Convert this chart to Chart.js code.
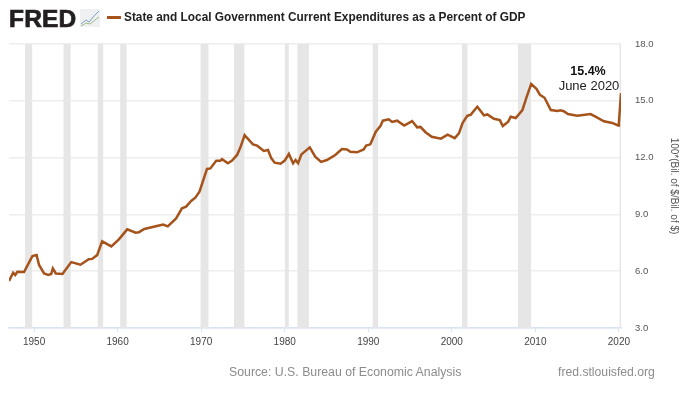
<!DOCTYPE html>
<html>
<head>
<meta charset="utf-8">
<script src="https://cdn.jsdelivr.net/npm/chart.js@4/dist/chart.umd.min.js"></script>
<style>
html, body { margin: 0; padding: 0; background: #fff; }
#wrap { position: relative; width: 700px; height: 393px; overflow: hidden; font-family: "Liberation Sans", Arial, sans-serif; filter: blur(0.4px); }
#wrap canvas { position: absolute; left: 0; top: 0; }
.txt { position: absolute; white-space: nowrap; }
#logo { left: 9px; top: 4px; font-size: 24.5px; line-height: 30px; font-weight: bold; color: #231f20; letter-spacing: 0.2px; -webkit-text-stroke: 0.7px #231f20; }
#icon { position: absolute; left: 80px; top: 9px; }
#legendLine { position: absolute; left: 107px; top: 16px; width: 14px; height: 3px; background: #a5531b; }
#title { left: 124px; top: 10px; font-size: 11.85px; line-height: 14px; font-weight: bold; color: #222; }
#source { left: 229px; top: 365px; font-size: 12.3px; line-height: 14px; color: #8c8c8c; }
#site { left: 558px; top: 365px; font-size: 12.2px; line-height: 14px; color: #8c8c8c; }
#note1 { left: 538px; width: 100px; text-align: center; top: 64px; font-size: 12.5px; line-height: 15px; font-weight: bold; color: #111; }
#note2 { left: 539px; width: 100px; text-align: center; top: 78px; font-size: 13px; line-height: 15px; color: #222; }
</style>
</head>
<body>
<div id="wrap">
  <canvas id="fredChart" width="700" height="393"></canvas>
  <div class="txt" id="logo">FRED</div>
  <svg id="icon" width="20" height="18" viewBox="0 0 20 18">
    <rect x="0" y="0" width="20" height="18" fill="#eef0f2"/>
    <polyline points="1,15 6,11 9,13 14,7 19,2" fill="none" stroke="#7f9fc4" stroke-width="1"/>
    <polyline points="1,17 6,14 10,15 15,11 19,8" fill="none" stroke="#9dbb8c" stroke-width="1"/>
  </svg>
  <div id="legendLine"></div>
  <div class="txt" id="title">State and Local Government Current Expenditures as a Percent of GDP</div>
  <div class="txt" id="note1">15.4%</div>
  <div class="txt" id="note2">June 2020</div>
  <div class="txt" id="source">Source: U.S. Bureau of Economic Analysis</div>
  <div class="txt" id="site">fred.stlouisfed.org</div>
</div>
<script>
var dataYears = [1947, 1947.5, 1947.75, 1948, 1948.8, 1949.8, 1950.3, 1950.6, 1951.2, 1951.7, 1952.05, 1952.25, 1952.6, 1953.4, 1954.45, 1955.55, 1956.55, 1956.95, 1957.55, 1958.15, 1959.25, 1960.15, 1961.15, 1962.15, 1962.55, 1963.2, 1964.7, 1965.45, 1966, 1967, 1967.7, 1968.2, 1968.8, 1969.3, 1969.8, 1970.7, 1971.1, 1971.8, 1972.3, 1972.5, 1973.2, 1973.7, 1974.3, 1974.7, 1975.2, 1976.2, 1976.7, 1977.5, 1978, 1978.4, 1978.8, 1979.5, 1980, 1980.5, 1981, 1981.3, 1981.6, 1982, 1983, 1983.65, 1984.35, 1985.05, 1986.05, 1986.85, 1987.45, 1987.85, 1988.65, 1989.45, 1989.75, 1990.25, 1990.9, 1991.45, 1991.75, 1992.45, 1992.85, 1993.45, 1994.3, 1995.25, 1995.85, 1996.25, 1996.85, 1997.6, 1998.7, 1999.5, 2000.35, 2000.85, 2001.3, 2001.85, 2002.25, 2003.05, 2003.85, 2004.25, 2005.05, 2005.75, 2006.1, 2006.75, 2007.05, 2007.65, 2008.45, 2008.9, 2009.5, 2010.15, 2010.55, 2011.1, 2011.85, 2012.65, 2013, 2013.4, 2013.9, 2015, 2016.6, 2017.2, 2018.2, 2019.2, 2019.9, 2020, 2020.25];
var dataValues = [5.48, 5.92, 5.8, 5.97, 5.96, 6.8, 6.85, 6.33, 5.88, 5.8, 5.85, 6.15, 5.88, 5.85, 6.48, 6.34, 6.63, 6.65, 6.85, 7.58, 7.31, 7.68, 8.21, 8.03, 8.06, 8.23, 8.39, 8.46, 8.37, 8.79, 9.32, 9.41, 9.71, 9.88, 10.2, 11.4, 11.43, 11.84, 11.84, 11.92, 11.7, 11.84, 12.14, 12.54, 13.19, 12.7, 12.63, 12.35, 12.4, 11.96, 11.73, 11.68, 11.84, 12.19, 11.7, 11.87, 11.7, 12.17, 12.54, 12.05, 11.77, 11.87, 12.14, 12.45, 12.43, 12.31, 12.28, 12.43, 12.63, 12.7, 13.37, 13.67, 13.95, 14.02, 13.88, 13.95, 13.69, 13.93, 13.6, 13.62, 13.34, 13.1, 13, 13.21, 13.03, 13.28, 13.84, 14.21, 14.26, 14.69, 14.23, 14.28, 14.05, 13.98, 13.67, 13.9, 14.16, 14.09, 14.51, 15.13, 15.89, 15.62, 15.31, 15.16, 14.51, 14.46, 14.5, 14.45, 14.3, 14.21, 14.3, 14.16, 13.92, 13.83, 13.7, 13.85, 15.4];
var recessionStarts = [1948.9, 1953.5, 1957.6, 1960.3, 1969.9, 1973.9, 1980, 1981.5, 1990.5, 2001.2, 2007.9, 2020.05];
var recessionEnds = [1949.8, 1954.4, 1958.3, 1961.1, 1970.9, 1975.2, 1980.5, 1982.9, 1991.2, 2001.9, 2009.5, 2020.25];
var xTicks = [1950, 1960, 1970, 1980, 1990, 2000, 2010, 2020];
var yTicks = [3, 6, 9, 12, 15, 18];

var seriesPoints = dataYears.map(function (y, i) {
    return { x: y, y: dataValues[i] };
});
var datasets = [{
    label: "State and Local Government Current Expenditures as a Percent of GDP",
    data: seriesPoints,
    borderColor: "#a5531b",
    borderWidth: 2.5,
    pointRadius: 0,
    tension: 0,
    order: 0,
}];
recessionStarts.forEach(function (start, i) {
    datasets.push({
        label: "Recession " + (i + 1),
        data: [{ x: start, y: 18 }, { x: recessionEnds[i], y: 18 }],
        borderWidth: 0,
        pointRadius: 0,
        backgroundColor: "#e6e6e6",
        fill: "start",
        order: 1,
    });
});

new Chart(document.getElementById("fredChart"), {
    type: "line",
    data: { datasets: datasets },
    options: {
        responsive: false,
        animation: false,
        parsing: false,
        layout: { padding: { left: 9, top: 44, right: 0, bottom: 0 } },
        plugins: { legend: { display: false }, title: { display: false }, tooltip: { enabled: false } },
        scales: {
            x: {
                type: "linear",
                min: 1947,
                max: 2020.25,
                afterBuildTicks: function (scale) {
                    scale.ticks = xTicks.map(function (v) { return { value: v }; });
                },
                afterFit: function (scale) { scale.height = 65; },
                grid: { drawOnChartArea: false, color: "#d9e3f3", tickLength: 4 },
                border: { color: "#d9e3f3", width: 1.5 },
                ticks: {
                    autoSkip: false,
                    maxRotation: 0,
                    padding: 4,
                    color: "#444",
                    font: { family: "'Liberation Sans', Arial, sans-serif", size: 10 },
                    callback: function (v) { return String(v); },
                },
            },
            y: {
                position: "right",
                min: 3,
                max: 18,
                afterBuildTicks: function (scale) {
                    scale.ticks = yTicks.map(function (v) { return { value: v }; });
                },
                afterFit: function (scale) { scale.width = 79; },
                grid: { color: "#eeeeee", lineWidth: 1.5, drawTicks: false },
                border: { display: false },
                ticks: {
                    padding: 14,
                    color: "#555",
                    font: { family: "'Liberation Sans', Arial, sans-serif", size: 9.5 },
                    callback: function (v) { return v.toFixed(1); },
                },
                title: {
                    display: true,
                    text: "100*(Bil. of $/Bil. of $)",
                    color: "#555",
                    font: { family: "'Liberation Sans', Arial, sans-serif", size: 10 },
                    padding: { top: 20, bottom: 0 },
                },
            },
        },
    },
});
</script>
</body>
</html>
